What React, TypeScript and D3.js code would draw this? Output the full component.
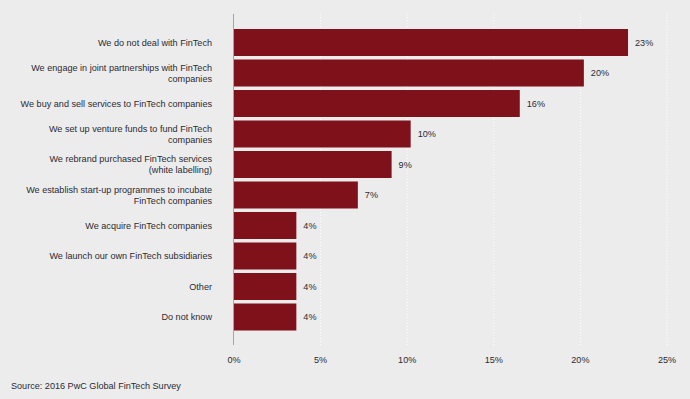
import React, { useRef, useEffect } from 'react';
import * as d3 from 'd3';

// categories, top to bottom (multi-line labels split by "|")
const categories = [
  'We do not deal with FinTech',
  'We engage in joint partnerships with FinTech|companies',
  'We buy and sell services to FinTech companies',
  'We set up venture funds to fund FinTech|companies',
  'We rebrand purchased FinTech services|(white labelling)',
  'We establish start-up programmes to incubate|FinTech companies',
  'We acquire FinTech companies',
  'We launch our own FinTech subsidiaries',
  'Other',
  'Do not know',
];
// share of respondents (%)
const values = [22.75, 20.2, 16.5, 10.2, 9.1, 7.15, 3.6, 3.6, 3.6, 3.6];
// printed value labels
const valueLabels = ['23%', '20%', '16%', '10%', '9%', '7%', '4%', '4%', '4%', '4%'];
const xTicks = [0, 5, 10, 15, 20, 25];

const W = 690;
const H = 399;

function App() {
  const ref = useRef(null);

  useEffect(() => {
    const svg = d3.select(ref.current);
    svg.selectAll('*').remove();

    var x = d3.scaleLinear().domain([0, 25]).range([234, 667]);
    var y = d3.scaleBand()
      .domain(categories)
      .range([27.25, 332.25])
      .paddingInner(0.115)
      .paddingOuter(0.0575);

    svg.append('rect')
      .attr('width', W)
      .attr('height', H)
      .attr('fill', '#ececec');

    // dotted grid lines
    svg.append('g')
      .selectAll('line')
      .data(xTicks.slice(1))
      .enter()
      .append('line')
      .attr('x1', (d) => x(d))
      .attr('x2', (d) => x(d))
      .attr('y1', 14)
      .attr('y2', 345)
      .attr('stroke', '#ffffff')
      .attr('stroke-width', 1)
      .attr('stroke-dasharray', '1,2');

    // bars
    svg.append('g')
      .selectAll('rect')
      .data(values)
      .enter()
      .append('rect')
      .attr('x', x(0))
      .attr('y', (d, i) => y(categories[i]))
      .attr('width', (d) => x(d) - x(0))
      .attr('height', y.bandwidth())
      .attr('fill', '#7f111a');

    // axis line
    svg.append('line')
      .attr('x1', x(0) - 0.5)
      .attr('x2', x(0) - 0.5)
      .attr('y1', 14)
      .attr('y2', 345)
      .attr('stroke', '#aaa49e')
      .attr('stroke-width', 1);

    const font = 'Liberation Sans, Arial, sans-serif';
    const fs = 9.1;

    // value labels
    svg.append('g')
      .selectAll('text')
      .data(values)
      .enter()
      .append('text')
      .attr('x', (d) => x(d) + 7)
      .attr('y', (d, i) => y(categories[i]) + y.bandwidth() / 2)
      .attr('dy', '0.35em')
      .attr('font-family', font)
      .attr('font-size', fs)
      .attr('fill', '#2b2b33')
      .text((d, i) => valueLabels[i]);

    // category labels
    const cat = svg.append('g')
      .selectAll('text')
      .data(categories)
      .enter()
      .append('text')
      .attr('text-anchor', 'end')
      .attr('font-family', font)
      .attr('font-size', fs)
      .attr('fill', '#2b2b33');
    cat.each(function (d) {
      const lines = d.split('|');
      const cy = y(d) + y.bandwidth() / 2;
      const lh = 11;
      const t = d3.select(this);
      lines.forEach((line, j) => {
        t.append('tspan')
          .attr('x', 212)
          .attr('y', cy + (j - (lines.length - 1) / 2) * lh)
          .attr('dy', '0.35em')
          .text(line);
      });
    });

    // x tick labels
    svg.append('g')
      .selectAll('text')
      .data(xTicks)
      .enter()
      .append('text')
      .attr('x', (d) => x(d))
      .attr('y', 360)
      .attr('dy', '0.35em')
      .attr('text-anchor', 'middle')
      .attr('font-family', font)
      .attr('font-size', fs)
      .attr('fill', '#2b2b33')
      .text((d) => d + '%');

    svg.append('text')
      .attr('x', 11)
      .attr('y', 385.5)
      .attr('dy', '0.35em')
      .attr('font-family', font)
      .attr('font-size', fs)
      .attr('fill', '#2b2b33')
      .text('Source: 2016 PwC Global FinTech Survey');
  }, []);

  return (
    <svg ref={ref} width={W} height={H} style={{ position: 'absolute', left: 0, top: 0, display: 'block' }}>
    </svg>
  );
}

export default App;
